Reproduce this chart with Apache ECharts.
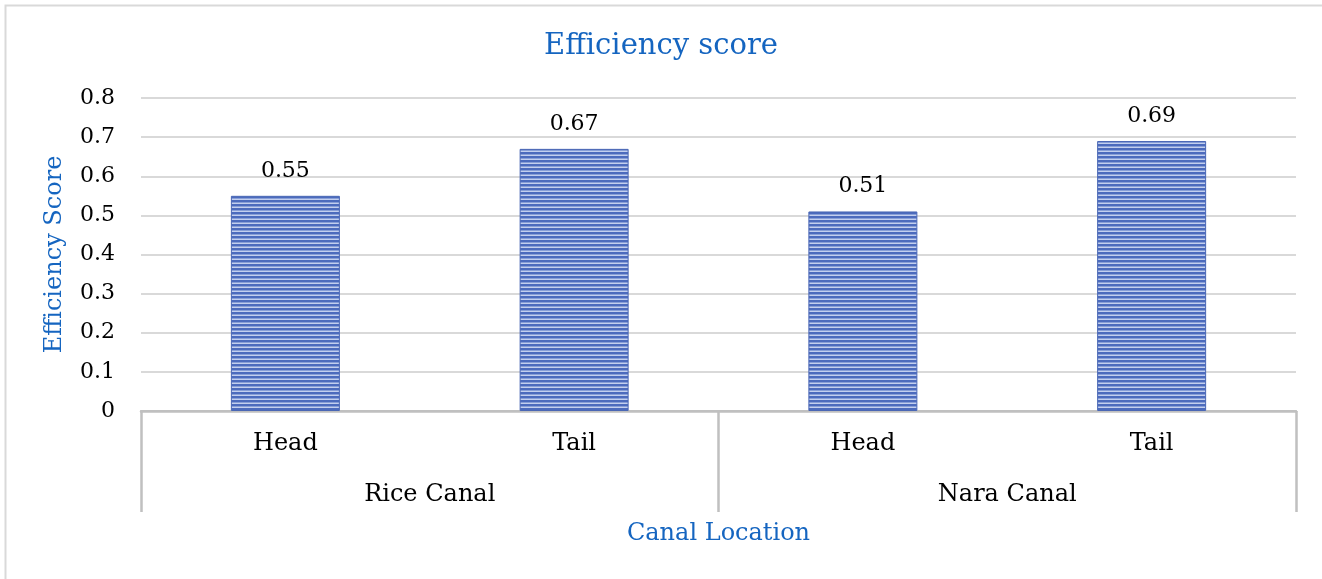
<!DOCTYPE html>
<html>
<head>
<meta charset="utf-8">
<script src="https://cdn.jsdelivr.net/npm/echarts@6/dist/echarts.min.js"></script>
<style>
  html, body { margin: 0; padding: 0; background: #fff; }
  #chart { width: 1322px; height: 579px; }
</style>
</head>
<body>
<div id="chart"></div>
<script>
  // chart data
  var locations = ['Head', 'Tail', 'Head', 'Tail'];
  var canals = ['Rice Canal', 'Nara Canal'];
  var scores = [0.55, 0.67, 0.51, 0.69];
  var yTicks = [0, 0.1, 0.2, 0.3, 0.4, 0.5, 0.6, 0.7, 0.8];

  var FONT = 'DejaVu Serif';
  var BLUE = '#1565c0';
  var GRAY = '#c0c0c0';

  // horizontal stripe fill for bars
  function stripes(){
    var c = document.createElement('canvas');
    c.width = 8; c.height = 4;
    var ctx = c.getContext('2d');
    ctx.fillStyle = '#c3cfee'; ctx.fillRect(0, 0, 8, 4);
    ctx.fillStyle = '#4c6bbd'; ctx.fillRect(0, 0, 8, 2);
    ctx.fillStyle = '#889fd7'; ctx.fillRect(0, 2, 8, 1);
    return c;
  }

  var chart = echarts.init(document.getElementById('chart'));
  chart.setOption({
    animation: false,
    title: {
      text: 'Efficiency score', left: 'center', top: 27,
      textStyle: { fontFamily: FONT, fontSize: 29, fontWeight: 'normal', color: BLUE }
    },
    graphic: [{
      type: 'rect', silent: true,
      shape: { x: 5.5, y: 5.5, width: 1340, height: 600 },
      style: { fill: 'none', stroke: '#d9d9d9', lineWidth: 2 }
    }],
    grid: { left: 141, right: 26, top: 98, bottom: 168 },
    xAxis: [{
      type: 'category', data: locations, position: 'bottom',
      name: 'Canal Location', nameLocation: 'middle', nameGap: 111,
      nameTextStyle: { fontFamily: FONT, fontSize: 24, color: BLUE },
      axisLine: { lineStyle: { color: GRAY, width: 2 } },
      axisTick: { show: false },
      axisLabel: { fontFamily: FONT, fontSize: 24, color: '#000', margin: 21 }
    }, {
      type: 'category', data: canals, position: 'bottom', offset: 0,
      axisLine: { lineStyle: { color: GRAY, width: 2.5 } },
      axisTick: { show: true, interval: 0, length: 101, lineStyle: { color: GRAY, width: 2.5 } },
      axisLabel: { fontFamily: FONT, fontSize: 24, color: '#000', margin: 72 }
    }],
    yAxis: {
      type: 'value', min: yTicks[0], max: yTicks[yTicks.length - 1], interval: 0.1,
      name: 'Efficiency Score', nameLocation: 'middle', nameGap: 74,
      nameTextStyle: { fontFamily: FONT, fontSize: 24, color: BLUE },
      axisLine: { show: false },
      axisTick: { show: false },
      splitLine: { lineStyle: { color: '#d9d9d9', width: 2 } },
      axisLabel: {
        fontFamily: FONT, fontSize: 22, color: '#000', margin: 26,
        formatter: function(v){ return String(Math.round(v * 10) / 10); }
      }
    },
    series: [{
      type: 'bar', xAxisIndex: 0, data: scores, barWidth: 109,
      itemStyle: { color: { image: stripes(), repeat: 'repeat' }, borderColor: '#4a67b5', borderWidth: 1 },
      label: { show: true, position: 'top', distance: 14, fontFamily: FONT, fontSize: 22, color: '#000' }
    }]
  });
</script>
</body>
</html>
